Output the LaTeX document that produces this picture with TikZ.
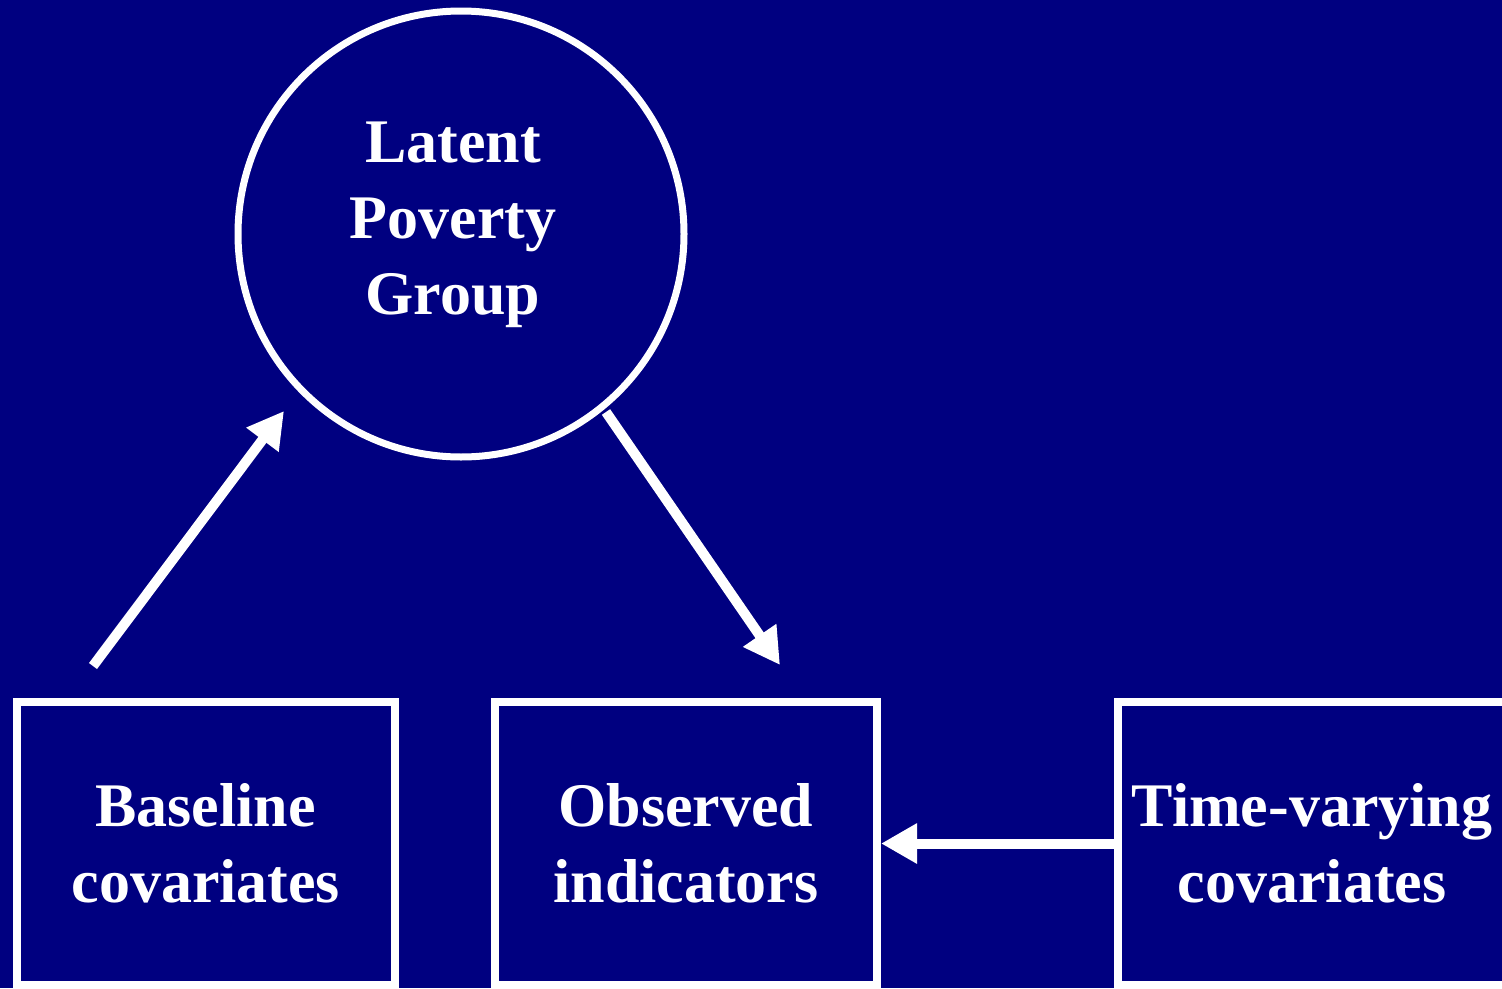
\documentclass[tikz,border=0pt]{standalone}
\usepackage{fontspec}
\setmainfont{Liberation Serif}
\usetikzlibrary{arrows.meta}
\definecolor{navy}{RGB}{0,0,128}
\begin{document}
\begin{tikzpicture}[x=1pt,y=-1pt,
  lbl/.style={text=white,font=\bfseries\fontsize{62}{76}\selectfont,align=center},
  boxnode/.style={draw=white,line width=8pt,rectangle,inner sep=0pt,text=white,font=\bfseries\fontsize{62}{76}\selectfont,align=center},
  conn/.style={draw=white,line width=10pt,-{Triangle[length=36pt,width=38pt]}}]
\fill[navy] (0,0) rectangle (1502,988);
\useasboundingbox (0,0) rectangle (1502,988);
\node[draw=white,line width=7pt,circle,minimum size=446pt,inner sep=0pt] (lpg) at (461,234) {};
\node[lbl] (lpgtext) at (453,225) {Latent\\Poverty\\Group};
\node[boxnode,minimum width=378.5pt,minimum height=283pt] (base) at (205.75,843.5) {Baseline\\covariates};
\node[boxnode,minimum width=382pt,minimum height=283pt] (obs) at (686,843.5) {Observed\\indicators};
\node[boxnode,minimum width=388pt,minimum height=283pt] (tv) at (1312,843.5) {Time-varying\\covariates};
\coordinate (a1s) at (93,666);
\coordinate (a1e) at (284,411);
\coordinate (a2s) at (606,412);
\coordinate (a2e) at (780,665);
\draw[conn] (a1s) -- (a1e);
\draw[conn] (a2s) -- (a2e);
\draw[conn] (tv.west) -- (obs.east);
\end{tikzpicture}
\end{document}
